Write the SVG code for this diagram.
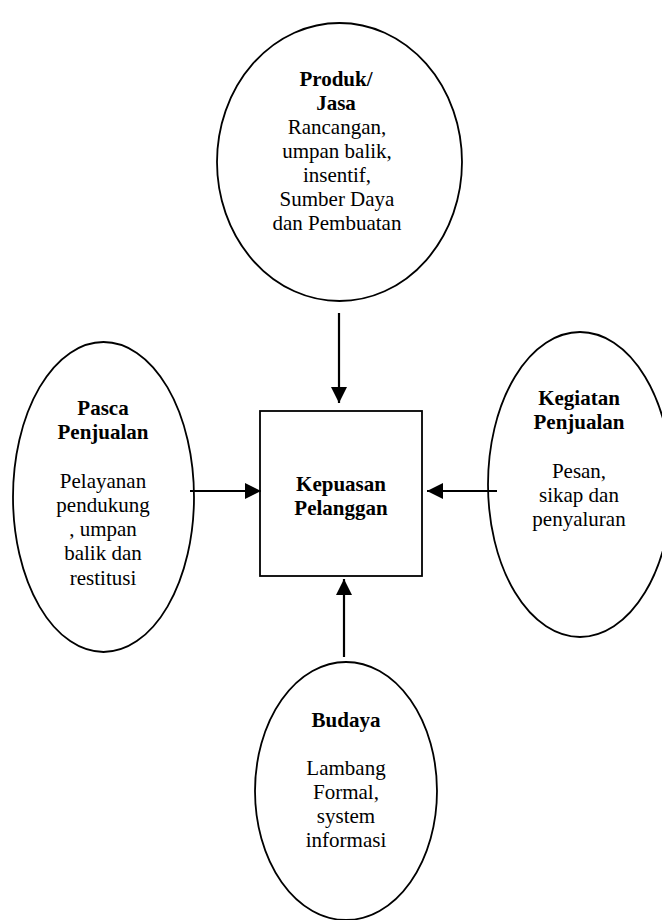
<svg xmlns="http://www.w3.org/2000/svg" width="662" height="920" viewBox="0 0 662 920">
<style>
.shape{fill:#fff;stroke:#000;stroke-width:1.8}
.t{font-family:"Liberation Serif","Times New Roman",serif;font-size:21px;fill:#000;text-anchor:middle}
.b{font-weight:bold}
.conn{stroke:#000;stroke-width:2.2;fill:none}
</style>
<defs>
<marker id="ah" viewBox="0 0 16 16" refX="16" refY="8" markerWidth="16" markerHeight="16" markerUnits="userSpaceOnUse" orient="auto">
<path d="M0,0 L16,8 L0,16 Z" fill="#000"/>
</marker>
</defs>
<rect width="662" height="920" fill="#fff"/>
<g id="produk">
<ellipse class="shape" cx="339.5" cy="162" rx="122.5" ry="139"/>
<text class="t"><tspan class="b" x="336" y="86">Produk/</tspan><tspan class="b" x="336" y="110">Jasa</tspan><tspan x="337" y="134">Rancangan,</tspan><tspan x="337" y="158">umpan balik,</tspan><tspan x="337" y="182">insentif,</tspan><tspan x="337" y="206">Sumber Daya</tspan><tspan x="337" y="230">dan Pembuatan</tspan></text>
</g>
<g id="pasca">
<ellipse class="shape" cx="103.5" cy="497" rx="90.5" ry="155"/>
<text class="t"><tspan class="b" x="103" y="415">Pasca</tspan><tspan class="b" x="103" y="439">Penjualan</tspan><tspan x="103" y="488">Pelayanan</tspan><tspan x="103" y="512">pendukung</tspan><tspan x="103" y="536">, umpan</tspan><tspan x="103" y="560">balik dan</tspan><tspan x="103" y="585">restitusi</tspan></text>
</g>
<g id="kegiatan">
<ellipse class="shape" cx="580" cy="484.5" rx="92" ry="152.5"/>
<text class="t"><tspan class="b" x="579" y="405">Kegiatan</tspan><tspan class="b" x="579" y="429">Penjualan</tspan><tspan x="579" y="478">Pesan,</tspan><tspan x="579" y="502">sikap dan</tspan><tspan x="579" y="526">penyaluran</tspan></text>
</g>
<g id="budaya">
<ellipse class="shape" cx="346" cy="791" rx="91" ry="129"/>
<text class="t"><tspan class="b" x="346" y="727">Budaya</tspan><tspan x="346" y="775">Lambang</tspan><tspan x="346" y="799">Formal,</tspan><tspan x="346" y="823">system</tspan><tspan x="346" y="847">informasi</tspan></text>
</g>
<g id="kepuasan">
<rect class="shape" x="260" y="411" width="162" height="165"/>
<text class="t b"><tspan x="341" y="491">Kepuasan</tspan><tspan x="341" y="515">Pelanggan</tspan></text>
</g>
<g id="connectors">
<line class="conn" x1="339" y1="313" x2="339" y2="403" marker-end="url(#ah)"/>
<line class="conn" x1="190" y1="491" x2="261" y2="491" marker-end="url(#ah)"/>
<line class="conn" x1="497" y1="491" x2="427" y2="491" marker-end="url(#ah)"/>
<line class="conn" x1="344" y1="657" x2="344" y2="579" marker-end="url(#ah)"/>
</g>
</svg>
